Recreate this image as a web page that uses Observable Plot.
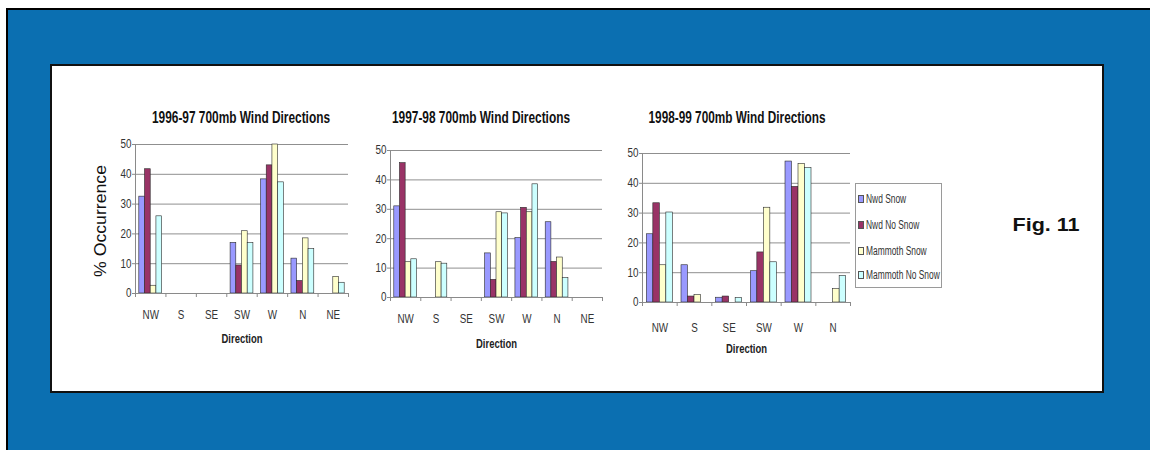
<!DOCTYPE html>
<html>
<head>
<meta charset="utf-8">
<script src="https://cdn.jsdelivr.net/npm/d3@7"></script>
<script src="https://cdn.jsdelivr.net/npm/@observablehq/plot@0.6"></script>
<style>
  html, body { margin: 0; padding: 0; background: #ffffff; }
  #page { position: relative; width: 1150px; height: 450px; overflow: hidden; background: #fff; }
  #blue { position: absolute; left: 6px; top: 8px; width: 1144px; height: 442px; box-sizing: border-box;
          background: #0b6fb1; border-left: 2px solid #000; border-top: 2px solid #000; }
  #panel { position: absolute; left: 50px; top: 64px; width: 1054px; height: 329px; box-sizing: border-box;
           background: #fff; border: 2px solid #111; }
  .abs { position: absolute; white-space: nowrap; line-height: 1; }
  .chart { position: absolute; }
  .chart svg { overflow: visible; }
</style>
</head>
<body>
<div id="page">
  <div id="blue"></div>
  <div id="panel"></div>
</div>
<script>
// ---------- data ----------
const directions7 = ["NW", "S", "SE", "SW", "W", "N", "NE"];
const directions6 = ["NW", "S", "SE", "SW", "W", "N"];
const seriesNames = ["Nwd Snow", "Nwd No Snow", "Mammoth Snow", "Mammoth No Snow"];
const seriesColors = ["#9999ff", "#993366", "#ffffcc", "#ccffff"];
const yTicks = [0, 10, 20, 30, 40, 50];

const titles = ["1996-97 700mb Wind Directions", "1997-98 700mb Wind Directions", "1998-99 700mb Wind Directions"];

// 1996-97 (NW, S, SE, SW, W, N, NE)
const nwdSnow9697     = [32.5, 0, 0, 17.0, 38.3, 11.7, 0];
const nwdNoSnow9697   = [41.7, 0, 0, 9.4, 43.0, 4.2, 0];
const mamSnow9697     = [2.6, 0, 0, 20.9, 50.0, 18.5, 5.6];
const mamNoSnow9697   = [25.9, 0, 0, 16.9, 37.3, 14.9, 3.6];

// 1997-98 (NW, S, SE, SW, W, N, NE)
const nwdSnow9798     = [31.0, 0, 0, 15.0, 20.2, 25.6, 0];
const nwdNoSnow9798   = [45.7, 0, 0, 6.0, 30.5, 12.1, 0];
const mamSnow9798     = [12.0, 12.0, 0, 29.0, 29.0, 13.6, 0];
const mamNoSnow9798   = [13.0, 11.5, 0, 28.6, 38.5, 6.6, 0];

// 1998-99 (NW, S, SE, SW, W, N)
const nwdSnow9899     = [22.9, 12.5, 1.6, 10.5, 47.3, 0];
const nwdNoSnow9899   = [33.3, 2.0, 2.0, 16.8, 38.8, 0];
const mamSnow9899     = [12.5, 2.5, 0, 31.8, 46.5, 4.5];
const mamNoSnow9899   = [30.2, 0, 1.5, 13.5, 45.1, 8.9];

// ---------- drawing ----------
const SANS = "'Liberation Sans', Arial, sans-serif";
const page = document.getElementById("page");

function makeChart(dirs, values, opts) {
  const rows = [];
  dirs.forEach((dir, di) => seriesNames.forEach((s, si) => {
    const v = values[si][di];
    if (v > 0) rows.push({dir, di, series: s, si, value: v});
  }));
  const n = dirs.length;
  const pad = 0.125, bw = 0.1875;
  return Plot.plot({
    width: opts.width, height: opts.height,
    marginLeft: opts.ml, marginRight: opts.mr, marginTop: opts.mt, marginBottom: opts.mb,
    x: {domain: [0, n], axis: null},
    y: {domain: [0, 50], axis: null},
    color: {domain: seriesNames, range: seriesColors},
    style: {fontFamily: SANS, fontSize: "12px", color: "#222", background: "transparent"},
    marks: [
      Plot.gridY(yTicks, {stroke: "#8f8f8f", strokeOpacity: 1}),
      Plot.rectY(rows, {
        x1: d => d.di + pad + d.si * bw,
        x2: d => d.di + pad + (d.si + 1) * bw,
        y: "value", fill: "series", stroke: "#2a2a2a", strokeWidth: 0.6
      }),
      Plot.ruleX([0], {stroke: "#8a8a8a"}),
      Plot.ruleY([0], {stroke: "#8a8a8a"}),
      Plot.axisY({ticks: yTicks, tickSize: 3, tickPadding: 1, stroke: "#8a8a8a", fill: "#333", label: null}),
      Plot.axisX({ticks: d3.range(n + 1), tickFormat: () => "", tickSize: 4, stroke: "#8a8a8a", label: null}),
      Plot.axisX({ticks: d3.range(n).map(i => i + 0.5), tickFormat: t => dirs[Math.floor(t)],
                  tickSize: 0, tickPadding: opts.labelPad, fill: "#333", label: null}),
      Plot.text(["Direction"], {text: d => d, frameAnchor: "bottom", dy: opts.dirDy, fontWeight: "bold", fontSize: 13, fill: "#222"})
    ]
  });
}

// narrow the rendered glyphs to match the condensed face of the original
function condense(svg, k) {
  svg.querySelectorAll("text").forEach(t => {
    if (!t.textContent) return;
    const len = t.getComputedTextLength();
    if (len > 0) {
      const target = t.textContent === "Direction" ? 41 : len * k;
      t.setAttribute("textLength", target.toFixed(2));
      t.setAttribute("lengthAdjust", "spacingAndGlyphs");
    }
  });
}

function place(node, left, top) {
  const wrap = document.createElement("div");
  wrap.className = "chart";
  wrap.style.left = left + "px";
  wrap.style.top = top + "px";
  wrap.appendChild(node);
  page.appendChild(wrap);
  condense(node, 0.82);
}

place(makeChart(directions7, [nwdSnow9697, nwdNoSnow9697, mamSnow9697, mamNoSnow9697],
  {width: 270, height: 230, ml: 45, mr: 12, mt: 14, mb: 67, labelPad: 17, dirDy: 49}), 90, 130);
place(makeChart(directions7, [nwdSnow9798, nwdNoSnow9798, mamSnow9798, mamNoSnow9798],
  {width: 250, height: 230, ml: 30, mr: 8, mt: 20, mb: 63, labelPad: 17, dirDy: 50}), 360, 130);
place(makeChart(directions6, [nwdSnow9899, nwdNoSnow9899, mamSnow9899, mamNoSnow9899],
  {width: 245, height: 240, ml: 30, mr: 7, mt: 23, mb: 68, labelPad: 21, dirDy: 50}), 612, 130);

// fitted text helper
function addText(text, cx, cy, targetW, style, rotate) {
  const el = document.createElement("div");
  el.className = "abs";
  el.textContent = text;
  Object.assign(el.style, style);
  el.style.left = cx + "px";
  el.style.top = cy + "px";
  page.appendChild(el);
  const w = el.getBoundingClientRect().width;
  const k = targetW ? targetW / w : 1;
  el.style.transform = `translate(-50%, -50%)${rotate ? ` rotate(${rotate}deg)` : ""} scaleX(${k})`;
  return el;
}

const titleStyle = {fontFamily: SANS, fontWeight: "bold", fontSize: "16px", color: "#111"};
addText(titles[0], 241, 118, 178, titleStyle);
addText(titles[1], 481, 118, 178, titleStyle);
addText(titles[2], 737, 118, 177, titleStyle);

addText("% Occurrence", 101, 221, 112, {fontFamily: SANS, fontSize: "16px", color: "#111"}, -90);

addText("Fig. 11", 1046, 225, 67, {fontFamily: SANS, fontWeight: "bold", fontSize: "18px", color: "#111"});

// legend
const legend = document.createElement("div");
Object.assign(legend.style, {position: "absolute", left: "855px", top: "183px", width: "87px", height: "105px",
  boxSizing: "border-box", border: "1px solid #9a9a9a", background: "#fff"});
page.appendChild(legend);
const legendY = [199, 225, 251, 275];
seriesNames.forEach((s, i) => {
  const sw = document.createElement("div");
  Object.assign(sw.style, {position: "absolute", left: "858px", top: (legendY[i] - 4) + "px", width: "6px", height: "8px",
    boxSizing: "border-box", border: "1px solid #555", background: seriesColors[i]});
  page.appendChild(sw);
  const el = document.createElement("div");
  el.className = "abs";
  el.textContent = s;
  Object.assign(el.style, {fontFamily: SANS, fontSize: "12px", color: "#333", left: "866px", top: legendY[i] + "px",
    transformOrigin: "0 50%", transform: "translateY(-50%) scaleX(0.7)"});
  page.appendChild(el);
});
</script>
</body>
</html>
